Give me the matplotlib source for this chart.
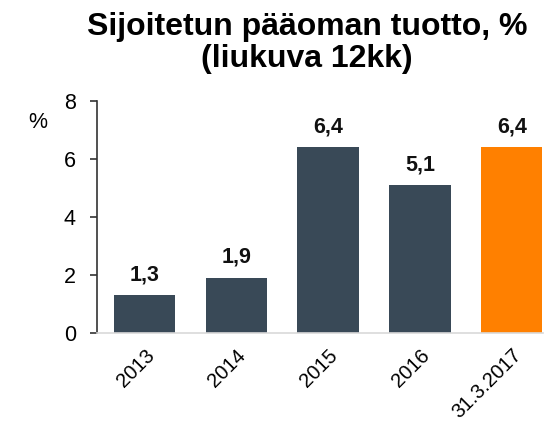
import matplotlib
matplotlib.use("Agg")
import matplotlib.pyplot as plt

categories = ["2013", "2014", "2015", "2016", "31.3.2017"]
values = [1.3, 1.9, 6.4, 5.1, 6.4]
value_labels = ["1,3", "1,9", "6,4", "5,1", "6,4"]
colors = ["#394957", "#394957", "#394957", "#394957", "#ff8000"]

plt.rcParams['font.family'] = ['Liberation Sans', 'DejaVu Sans']

fig = plt.figure(figsize=(5.44, 4.24), dpi=100)
ax = fig.add_axes([0.178, 0.2146, 0.82, 0.547])

x = range(len(categories))
ax.bar(x, values, width=0.67, color=colors, zorder=2)
for xi, v, lab in zip(x, values, value_labels):
    ax.text(xi, v + 0.35, lab, ha='center', va='bottom', fontsize=15.5, fontweight='bold', color='#111111')

ax.set_xlim(-0.52, 4.34)
ax.set_ylim(0, 8)
ax.set_yticks([0, 2, 4, 6, 8])
ax.set_xticks(list(x))
ax.set_xticklabels(categories, rotation=45, ha='right', rotation_mode='anchor', fontsize=14.5)
ax.tick_params(axis='x', length=0, pad=9)
ax.tick_params(axis='y', labelsize=15.5, length=5, width=1.2, color='#333333', pad=10)

for s in ['top', 'right']:
    ax.spines[s].set_visible(False)
ax.spines['left'].set_color('#333333')
ax.spines['left'].set_linewidth(1.2)
ax.spines['bottom'].set_color('#d9d9d9')
ax.spines['bottom'].set_linewidth(1.2)

fig.text(0.07, 0.71, "%", fontsize=15.5, ha='center', va='center')
fig.text(0.564, 0.937, "Sijoitetun pääoman tuotto, %", ha='center', va='center',
         fontsize=23, fontweight='bold')
fig.text(0.564, 0.86, "(liukuva 12kk)", ha='center', va='center',
         fontsize=23, fontweight='bold')

fig.savefig("out.png", dpi=100)
